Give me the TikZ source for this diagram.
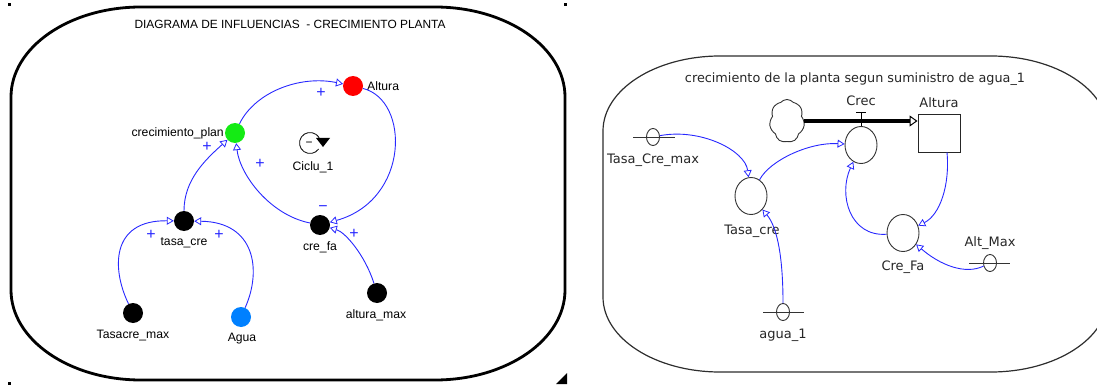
\documentclass[tikz,border=0pt]{standalone}
\usepackage{fontspec}
\setmainfont{Liberation Sans}
\newfontfamily\vensimfont{DejaVu Sans}
\usetikzlibrary{arrows.meta,shapes.geometric,shapes.symbols}

\definecolor{linkblue}{RGB}{40,40,255}
\definecolor{aguablue}{RGB}{0,128,255}
\definecolor{plangreen}{RGB}{20,235,20}
\definecolor{framegray}{RGB}{45,45,45}

\begin{document}
\begin{tikzpicture}[x=1pt,y=-1pt,
  dot/.style={circle,inner sep=0pt,minimum size=20pt},
  lbl/.style={font=\fontsize{12.2}{13}\selectfont,inner sep=0pt},
  sign/.style={font=\fontsize{16}{16}\selectfont,text=linkblue,inner sep=0pt},
  link/.style={draw=linkblue,line width=0.9pt,
    -{Triangle[fill=white,length=7pt,width=8pt,line width=0.8pt]}},
  rlbl/.style={font=\vensimfont\fontsize{13}{14}\selectfont,text=black!85,inner sep=0pt},
  aux/.style={ellipse,draw=black!80,line width=0.9pt,minimum width=32pt,
    minimum height=37pt,inner sep=0pt},
  conv/.style={ellipse,draw=black!80,line width=0.9pt,minimum width=13pt,
    minimum height=17pt,inner sep=0pt},
  convbar/.style={draw=black!80,line width=0.9pt},
]
\useasboundingbox (0,0) rectangle (1097,385);
\clip (0,0) rectangle (1097,385);

% ---------------- influence diagram (left) ----------------
\draw[line width=2.8pt]
  (11,97) arc[start angle=180,end angle=270,x radius=130,y radius=90]
  -- (435,7) arc[start angle=270,end angle=360,x radius=130,y radius=90]
  -- (565,290) arc[start angle=0,end angle=90,x radius=130,y radius=90]
  -- (141,380) arc[start angle=90,end angle=180,x radius=130,y radius=90]
  -- cycle;
% selection handles
\fill (7.5,3.5) rectangle ++(3,3);
\fill (563.5,3.5) rectangle ++(3,3);
\fill (7.5,381.5) rectangle ++(3,3);
\fill (556,384) -- (567,373) -- (567,384) -- cycle;

\node[lbl,font=\fontsize{11.9}{12}\selectfont] (ttl) at (290,24)
  {DIAGRAMA DE INFLUENCIAS\ \ - CRECIMIENTO PLANTA};

\node[dot,fill=red] (alt) at (353,86) {};
\node[lbl,anchor=west] (altL) at (367,86) {Altura};
\node[dot,fill=plangreen] (crec) at (235,133) {};
\node[lbl,anchor=east] (crecL) at (224,133) {crecimiento\_plan};
\node[dot,fill=black] (tasa) at (184,221) {};
\node[lbl] (tasaL) at (184,243) {tasa\_cre};
\node[dot,fill=black] (crefa) at (320,225) {};
\node[lbl] (crefaL) at (320,247) {cre\_fa};
\node[dot,fill=black] (tmax) at (133,313) {};
\node[lbl] (tmaxL) at (133,336) {Tasacre\_max};
\node[dot,fill=aguablue] (agua) at (241,317) {};
\node[lbl] (aguaL) at (242,339) {Agua};
\node[dot,fill=black] (amax) at (377,293) {};
\node[lbl] (amaxL) at (376,315) {altura\_max};

% loop marker
\node[circle,minimum size=21pt,inner sep=0pt] (loop) at (310,143) {};
\draw[line width=0.8pt] ([shift={(35:10.5)}]loop.center)
  arc[start angle=35,end angle=335,radius=10.5];
\fill (316,138) -- (330,138) -- (323,147) -- cycle;
\node[font=\fontsize{12}{12}\selectfont,inner sep=0pt] (loopsign) at (309,144) {−};
\node[lbl] (loopL) at (313,167) {Ciclu\_1};

% influences
\draw[link] (crec) .. controls (255,92) and (300,75) .. (alt);
\draw[link] (alt) .. controls (410,100) and (410,200) .. (crefa);
\draw[link] (crefa) .. controls (270,215) and (240,175) .. (crec);
\draw[link] (tasa) .. controls (184,180) and (205,160) .. (crec);
\draw[link] (tmax) .. controls (112,270) and (110,220) .. (tasa);
\draw[link] (agua) .. controls (262,270) and (255,222) .. (tasa);
\draw[link] (amax) .. controls (365,255) and (345,232) .. (crefa);

\node[sign] (s1) at (321,93) {+};
\node[sign] (s2) at (260,164) {+};
\node[sign] (s3) at (207,147) {+};
\node[sign] (s4) at (323,209) {−};
\node[sign] (s5) at (151,235) {+};
\node[sign] (s6) at (219,235) {+};
\node[sign] (s7) at (354,234) {+};

% ---------------- stock and flow model (right) ----------------
\draw[framegray,line width=1.2pt]
  (603,131) arc[start angle=180,end angle=270,x radius=117,y radius=75]
  -- (991,56) arc[start angle=270,end angle=360,x radius=117,y radius=75]
  -- (1108,297) arc[start angle=0,end angle=90,x radius=117,y radius=75]
  -- (720,372) arc[start angle=90,end angle=180,x radius=117,y radius=75]
  -- cycle;

\node[rlbl,font=\vensimfont\fontsize{12.8}{14}\selectfont] (rttl) at (855,79)
  {crecimiento de la planta segun suministro de agua\_1};

\node[cloud,cloud puffs=7,cloud puff arc=100,aspect=0.85,draw=black!80,line width=0.9pt,
  minimum width=35pt,minimum height=43pt,inner sep=0pt] (src) at (787,121) {};
\node[draw=black!85,line width=0.9pt,minimum width=42pt,minimum height=38pt,
  inner sep=0pt] (stock) at (939,133) {};
\node[rlbl] (stockL) at (939,103) {Altura};
\node[aux] (crecR) at (861,145) {};
\node[rlbl] (crecRL) at (861,101) {Crec};

% flow pipe and valve
\draw[line width=4pt,-{Triangle[fill=white,length=8pt,width=11pt,line width=1pt]}]
  (src.east) -- (src.east -| stock.west);
\draw[line width=1pt] (crecR.north) -- ++(0,-14) ++(-5,0) -- ++(10,0);

\node[conv] (tcm) at (653,137) {};
\draw[convbar] ([xshift=-20pt]tcm.center) -- ([xshift=22pt]tcm.center);
\node[rlbl] (tcmL) at (653,160) {Tasa\_Cre\_max};
\node[aux] (tasaR) at (751,196) {};
\node[rlbl] (tasaRL) at (752,231) {Tasa\_cre};
\node[conv] (agua1) at (783,312) {};
\draw[convbar] ([xshift=-20pt]agua1.center) -- ([xshift=21pt]agua1.center);
\node[rlbl] (agua1L) at (783,335) {agua\_1};
\node[aux] (crefaR) at (903,233) {};
\node[rlbl] (crefaRL) at (903,267) {Cre\_Fa};
\node[conv] (altmax) at (990,263) {};
\draw[convbar] ([xshift=-21pt]altmax.center) -- ([xshift=20pt]altmax.center);
\node[rlbl] (altmaxL) at (990,243) {Alt\_Max};

\draw[link] (tcm) .. controls (700,128) and (745,150) .. (tasaR);
\draw[link] (tasaR) .. controls (770,160) and (810,142) .. (crecR);
\draw[link] (agua1) .. controls (783,260) and (778,228) .. (tasaR);
\draw[link] (crefaR) .. controls (850,237) and (838,195) .. (crecR);
\draw[link] ([xshift=8pt]stock.south) .. controls (950,185) and (940,215) .. (crefaR);
\draw[link] (altmax) .. controls (965,275) and (940,265) .. (crefaR);
\end{tikzpicture}
\end{document}
